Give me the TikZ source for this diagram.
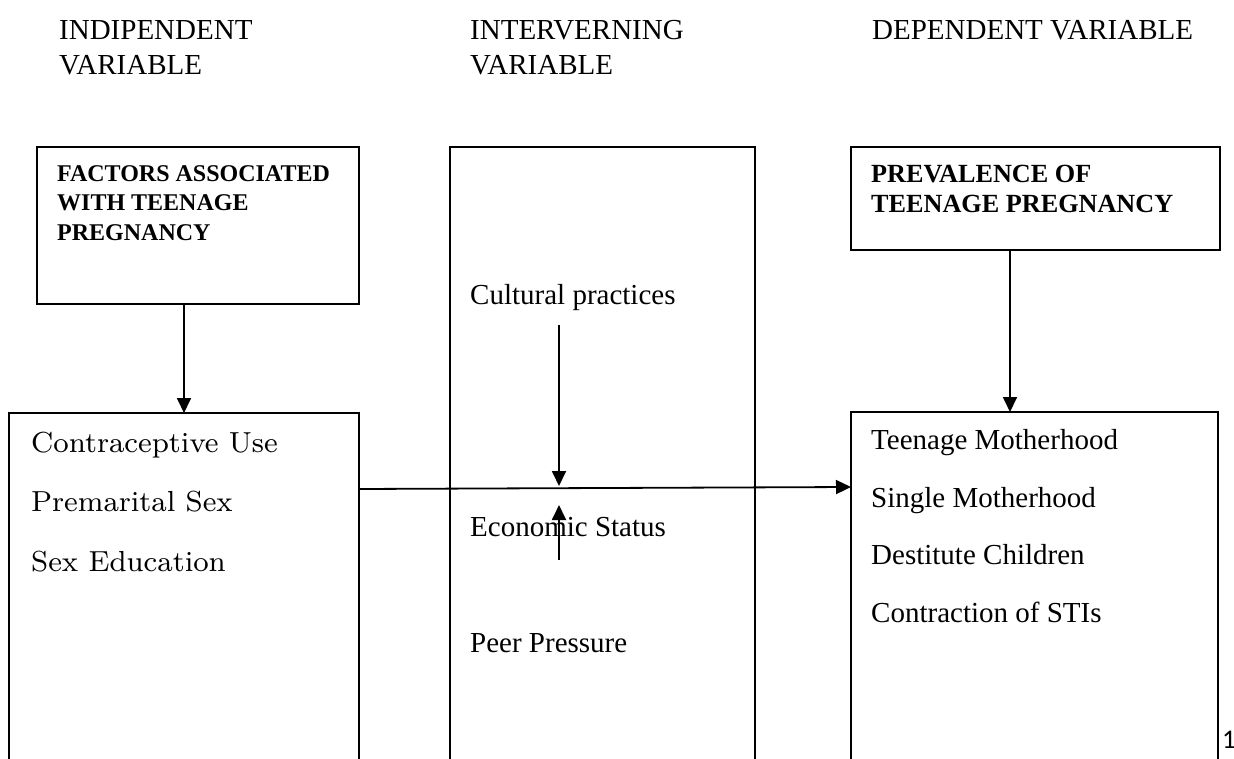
\documentclass[tikz,border=0pt]{standalone}
\usepackage{fontspec}
\newfontfamily\tnr{Liberation Serif}
\newfontfamily\lmr{lmroman8-regular.otf}
\newfontfamily\calib{Carlito}
\usetikzlibrary{arrows.meta}
\begin{document}
\begin{tikzpicture}[x=1pt,y=-1pt,
  box/.style={draw=black, line width=1.5pt, inner sep=0pt, outer sep=0pt, anchor=north west},
  arr/.style={draw=black, line width=1.8pt, -{Triangle[length=15pt,width=14pt]}},
  head/.style={anchor=base west, inner sep=0pt, font=\tnr\fontsize{29}{35}\selectfont},
  item/.style={anchor=base west, inner sep=0pt, font=\tnr\fontsize{29}{35}\selectfont},
  lmitem/.style={anchor=base west, inner sep=0pt, font=\lmr\fontsize{29}{36}\selectfont},
  btitleA/.style={anchor=base west, inner sep=0pt, font=\tnr\bfseries\fontsize{24}{30}\selectfont},
  btitleB/.style={anchor=base west, inner sep=0pt, font=\tnr\bfseries\fontsize{26.2}{30}\selectfont}]
\useasboundingbox (0,0) rectangle (1234,759);
\fill[white] (0,0) rectangle (1234,759);
\clip (0,0) rectangle (1234,759);

% headers
\node[head] (h1a) at (59,40) {INDIPENDENT};
\node[head] (h1b) at (59,75) {VARIABLE};
\node[head] (h2a) at (470,40) {INTERVERNING};
\node[head] (h2b) at (470,75) {VARIABLE};
\node[head] (h3) at (872,40) {DEPENDENT VARIABLE};

% boxes
\node[box, minimum width=322pt, minimum height=157pt] (fa) at (37,147) {};
\node[box, minimum width=350pt, minimum height=400pt] (iv) at (9,413) {};
\node[box, minimum width=305pt, minimum height=700pt] (mid) at (450,147) {};
\node[box, minimum width=369pt, minimum height=103pt] (pv) at (851,147) {};
\node[box, minimum width=367pt, minimum height=400pt] (dv) at (851,412) {};

% box titles
\node[btitleA] (fa1) at (57,182) {FACTORS ASSOCIATED};
\node[btitleA] (fa2) at (57,211) {WITH TEENAGE};
\node[btitleA] (fa3) at (57,241) {PREGNANCY};
\node[btitleB] (pv1) at (871,183) {PREVALENCE OF};
\node[btitleB] (pv2) at (871,213) {TEENAGE PREGNANCY};

% independent items
\node[lmitem] (i1) at (31,452) {Contraceptive Use};
\node[lmitem] (i2) at (31,511) {Premarital Sex};
\node[lmitem] (i3) at (31,571) {Sex Education};

% intervening items
\node[item] (m1) at (470,305) {Cultural practices};
\node[item] (m2) at (470,536) {Economic Status};
\node[item] (m3) at (470,652) {Peer Pressure};

% dependent items
\node[item] (d1) at (871,449) {Teenage Motherhood};
\node[item] (d2) at (871,507) {Single Motherhood};
\node[item] (d3) at (871,564) {Destitute Children};
\node[item] (d4) at (871,622) {Contraction of STIs};

% page number
\node[anchor=base west, inner sep=0pt, font=\calib\fontsize{27}{30}\selectfont] (pg) at (1222,748) {1};

% connectors
\coordinate (pvx) at (1010,0);
\coordinate (ha) at (0,489);
\coordinate (hb) at (0,487);
\coordinate (dtop) at (559,325);
\coordinate (dbot) at (559,486);
\coordinate (ubot) at (559,560);
\coordinate (utop) at (559,505);

\draw[arr] (fa.south -| iv.north) -- (iv.north);
\draw[arr] (pv.south -| pvx) -- (dv.north -| pvx);
\draw[arr] (iv.east |- ha) -- (dv.west |- hb);
\draw[arr] (dtop) -- (dbot);
\draw[arr] (ubot) -- (utop);
\end{tikzpicture}
\end{document}
